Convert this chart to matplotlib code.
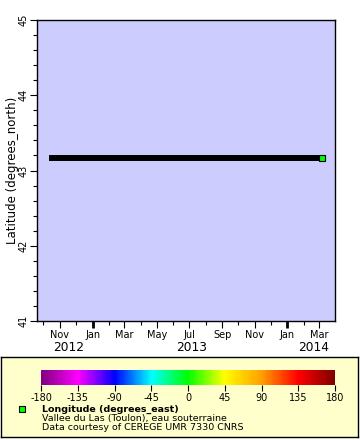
#!/usr/bin/env python3
import datetime as dt
import matplotlib
matplotlib.use("Agg")
import matplotlib.pyplot as plt
import matplotlib.dates as mdates
from matplotlib.colors import LinearSegmentedColormap, Normalize
from matplotlib.colorbar import ColorbarBase

# data
dates = [dt.datetime(2012, 10, 17), dt.datetime(2014, 3, 6)]
latitude = [43.17, 43.17]
x_range = [dt.datetime(2012, 9, 19), dt.datetime(2014, 3, 31)]
y_range = [41, 45]
years = ["2012", "2013", "2014"]
year_pos = [dt.datetime(2012, 11, 18), dt.datetime(2013, 7, 5), dt.datetime(2014, 2, 19)]
cbar_ticks = [-180, -135, -90, -45, 0, 45, 90, 135, 180]
cmap_colors = ["#800080", "#FF00FF", "#0000FF", "#00FFFF", "#00FF00",
               "#FFFF00", "#FFA000", "#FF0000", "#800000"]

plt.rcParams["font.family"] = "DejaVu Sans"
plt.rcParams["axes.unicode_minus"] = False

fig = plt.figure(figsize=(3.6, 4.4), dpi=100)

# legend box (drawn first, sits below the colorbar)
lax = fig.add_axes([1 / 360, 3 / 440, 357 / 360, 80 / 440])
lax.set_facecolor("#FFFFCC")
lax.set_xticks([])
lax.set_yticks([])
lax.set_xlim(0, 357)
lax.set_ylim(80, 0)
for s in lax.spines.values():
    s.set_linewidth(1.0)

ax = fig.add_axes([37 / 360, 1 - 321 / 440, 298 / 360, 301 / 440])
ax.set_facecolor("#CCCCFF")

ax.plot(dates, latitude, color="black", linewidth=4.3, solid_capstyle="projecting", zorder=2)
ax.plot(dates[-1:], latitude[-1:], "s", markersize=4.0, markerfacecolor="#00FF00",
        markeredgecolor="black", markeredgewidth=0.8, zorder=3)

ax.set_xlim(x_range)
ax.set_ylim(y_range)

ax.xaxis.set_major_locator(mdates.MonthLocator(bymonth=[1, 3, 5, 7, 9, 11]))
ax.xaxis.set_minor_locator(mdates.MonthLocator())
ax.xaxis.set_major_formatter(mdates.DateFormatter("%b"))
ax.tick_params(axis="x", which="major", length=5, width=0.8, labelsize=7, pad=1.5)
ax.tick_params(axis="x", which="minor", length=3, width=0.8)

ax.set_yticks([41, 42, 43, 44, 45])
ax.set_yticks([41 + 0.2 * i for i in range(21)], minor=True)
ax.tick_params(axis="y", which="major", length=5, width=0.8, labelsize=7, pad=1,
               labelrotation=90)
ax.tick_params(axis="y", which="minor", length=3, width=0.8)
plt.setp(ax.get_yticklabels(), va="center")

ax.set_ylabel("Latitude (degrees_north)", fontsize=8.5, va="center")
ax.yaxis.set_label_coords(-0.082, 0.5)
for s in ax.spines.values():
    s.set_linewidth(1.0)

for y, xp in zip(years, year_pos):
    ax.text(xp, -0.087, y, transform=ax.get_xaxis_transform(), ha="center",
            va="center", fontsize=8.8)

# thicker ticks at year boundaries
fig.canvas.draw()
for t in ax.xaxis.get_major_ticks():
    d = mdates.num2date(t.get_loc())
    if d.month == 1:
        t.tick1line.set_markeredgewidth(2.0)

cmap = LinearSegmentedColormap.from_list("lon", cmap_colors)
cax = fig.add_axes([41 / 360, 1 - 385 / 440, 294 / 360, 15 / 440])
cb = ColorbarBase(cax, cmap=cmap, norm=Normalize(-180, 180), orientation="horizontal",
                  ticks=cbar_ticks)
cb.outline.set_visible(False)
cax.tick_params(axis="x", length=4, width=0.8, labelsize=7, pad=2)

# legend entry (coords in pixels inside the legend box)
lax.plot([21], [52], "s", markersize=4.2, markerfacecolor="#00FF00",
         markeredgecolor="black", markeredgewidth=0.8)
lax.text(41, 52, "Longitude (degrees_east)", fontsize=6.8, fontweight="bold", va="center")
lax.text(41, 61, "Vallee du Las (Toulon), eau souterraine", fontsize=6.8, va="center")
lax.text(41, 70, "Data courtesy of CEREGE UMR 7330 CNRS", fontsize=6.8, va="center")

fig.savefig("out.png", dpi=100)
